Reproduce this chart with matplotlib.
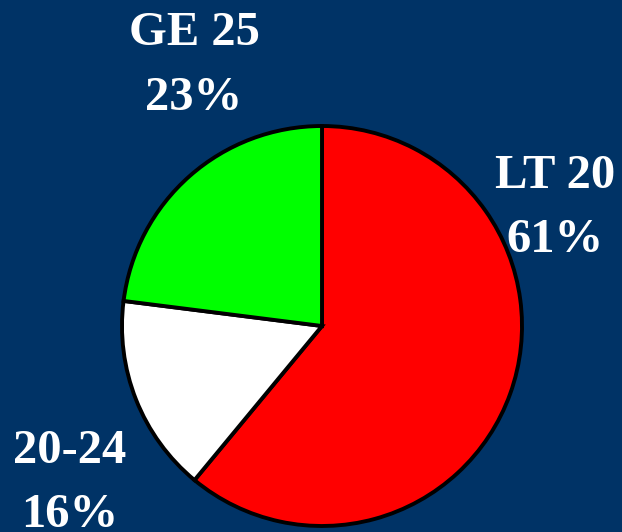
import matplotlib
matplotlib.use("Agg")
import matplotlib.pyplot as plt

categories = ["LT 20", "20-24", "GE 25"]
values = [61, 16, 23]
colors = ["#ff0000", "#ffffff", "#00ff00"]

W, H = 622, 532
bg = "#003366"
fig = plt.figure(figsize=(W / 100, H / 100), dpi=100, facecolor=bg)

# pie center (322, 325) px from top-left, radius 200
cx, cy, r = 322, 326, 200
ax = fig.add_axes([(cx - r) / W, (H - cy - r) / H, 2 * r / W, 2 * r / H])
ax.set_facecolor(bg)
wedges, _ = ax.pie(values, colors=colors, startangle=90, counterclock=False, radius=1,
                   wedgeprops=dict(edgecolor="black", linewidth=2.8))
for w in wedges:
    w.set_clip_on(False)
ax.set_xlim(-1, 1)
ax.set_ylim(-1, 1)
ax.set_aspect("auto")
ax.axis("off")

# label anchor positions: (center x px, baseline y px of first line, second line)
label_pos = {"LT 20": (555, 188, 252), "20-24": (70, 463, 527), "GE 25": (194, 45, 110)}
for cat, val in zip(categories, values):
    x, y1, y2 = label_pos[cat]
    for txt, y in ((cat, y1), (f"{val}%", y2)):
        fig.text(x / W, 1 - y / H, txt, ha="center", va="baseline", color="white",
                 fontsize=35, fontweight="bold", family="Liberation Serif")

fig.savefig("out.png", dpi=100, facecolor=bg)
